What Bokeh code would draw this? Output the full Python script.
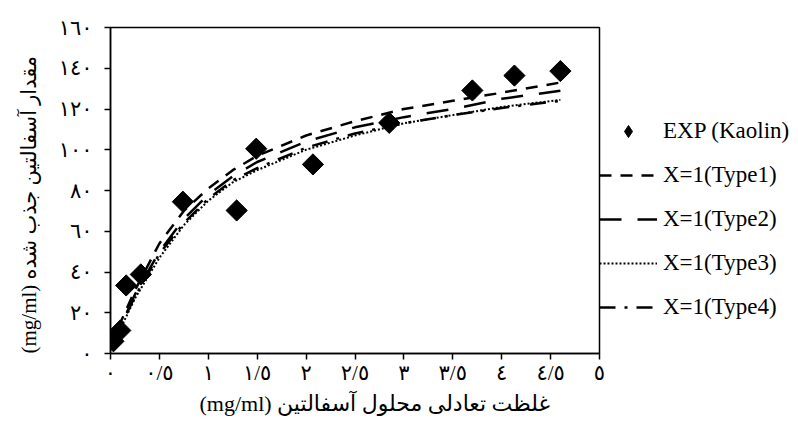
import numpy as np
from bokeh.plotting import figure
from bokeh.models import Legend, LegendItem, FixedTicker, Range1d, Title
from bokeh.embed import file_html
from bokeh.resources import INLINE

# ---- data ----
x_exp = [0.03, 0.10, 0.16, 0.31, 0.74, 1.29, 1.49, 2.07, 2.85, 3.70, 4.13, 4.60]
y_exp = [6.0, 11.3, 33.4, 38.8, 74.5, 70.2, 100.5, 92.8, 113.2, 129.1, 136.4, 138.6]

x_fit = [0.02, 0.1, 0.25, 0.5, 0.75, 1.0, 1.25, 1.5, 2.0, 2.5, 3.0, 3.5, 4.0, 4.6]
y_type1 = [3, 15, 31, 54, 70, 81, 90, 97, 107, 114, 120, 124, 128, 133]
y_type2 = [3, 13, 29, 50, 66, 78, 87, 94, 104, 111, 116, 120, 125, 129]
y_type3 = [2, 12, 27, 47, 63, 75, 84, 90, 100, 107, 113, 117, 121, 124.5]
y_type4 = [3, 13, 28, 49, 64, 76, 85, 91, 101, 108, 113, 117, 120.5, 124]

x_ticks = [0, 0.5, 1, 1.5, 2, 2.5, 3, 3.5, 4, 4.5, 5]
x_tick_labels = ["٠", "٠/٥", "١", "١/٥", "٢", "٢/٥", "٣", "٣/٥", "٤", "٤/٥", "٥"]
y_ticks = [0, 20, 40, 60, 80, 100, 120, 140, 160]
y_tick_labels = ["٠", "٢٠", "٤٠", "٦٠", "٨٠", "١٠٠", "١٢٠", "١٤٠", "١٦٠"]

series_names = ["EXP (Kaolin)", "X=1(Type1)", "X=1(Type2)", "X=1(Type3)", "X=1(Type4)"]
x_title = "(mg/ml) غلظت تعادلی محلول آسفالتین"
y_title = "(mg/ml) مقدار آسفالتین جذب شده"

FONT = "'Liberation Serif', 'DejaVu Sans'"

p = figure(frame_width=489, frame_height=326, output_backend="svg", toolbar_location=None,
           x_range=Range1d(0, 5), y_range=Range1d(0, 160),
           min_border_left=108, min_border_right=199, min_border_top=27,
           min_border_bottom=66)
p.background_fill_color = "white"
p.border_fill_color = "white"
p.outline_line_color = "black"
p.outline_line_width = 1.5
p.xgrid.visible = False
p.ygrid.visible = False

r1 = p.line(x_fit, y_type1, line_color="black", line_width=2.5, line_dash="12 9")
r2 = p.line(x_fit, y_type2, line_color="black", line_width=2.5, line_dash="22 16")
r3 = p.line(x_fit, y_type3, line_color="black", line_width=2, line_dash="2 2")
r4 = p.line(x_fit, y_type4, line_color="black", line_width=2.5, line_dash="16 9 3 9")
r0 = p.scatter(x_exp, y_exp, marker="square", angle=np.pi / 4, size=15,
               fill_color="black", line_color="black")
# small upright diamond used for the legend entry (hidden under the first point)
r0_leg = p.scatter(x_exp[:1], y_exp[:1], marker="diamond", size=5,
                   fill_color="black", line_color="black")

for ax in (p.xaxis[0], p.yaxis[0]):
    ax.axis_line_color = "black"
    ax.axis_line_width = 1.5
    ax.major_tick_line_color = "black"
    ax.major_tick_line_width = 1.5
    ax.major_tick_out = 6
    ax.major_tick_in = 0
    ax.minor_tick_line_color = None
    ax.major_label_text_font = FONT
    ax.major_label_text_color = "black"
    ax.major_label_text_font_size = "21px"

p.xaxis.ticker = FixedTicker(ticks=x_ticks)
p.xaxis.major_label_overrides = {t: l for t, l in zip(x_ticks, x_tick_labels)}
p.yaxis.ticker = FixedTicker(ticks=y_ticks)
p.yaxis.major_label_overrides = {t: l for t, l in zip(y_ticks, y_tick_labels)}
p.xaxis.major_label_standoff = 1
p.yaxis.major_label_standoff = 12

xt = Title(text=x_title, align="left", offset=89, text_font=FONT,
           text_font_size="22px", text_font_style="normal", text_color="black",
           standoff=2)
p.add_layout(xt, "below")

yt = Title(text=y_title, align="left", offset=0, text_font=FONT,
           text_font_size="21px", text_font_style="normal", text_color="black",
           standoff=29)
p.add_layout(yt, "left")

legend = Legend(items=[LegendItem(label=n, renderers=[r]) for n, r in
                       zip(series_names, [r0_leg, r1, r2, r3, r4])],
                location=(0, 31))
legend.border_line_color = None
legend.background_fill_alpha = 0
legend.padding = 5
legend.margin = 0
legend.spacing = 14
legend.glyph_width = 58
legend.glyph_height = 30
legend.label_height = 30
legend.label_standoff = 6
legend.label_text_font = "Liberation Serif"
legend.label_text_font_size = "23px"
legend.label_text_color = "black"
p.add_layout(legend, "right")

open("out.html", "w").write(file_html(p, INLINE))
